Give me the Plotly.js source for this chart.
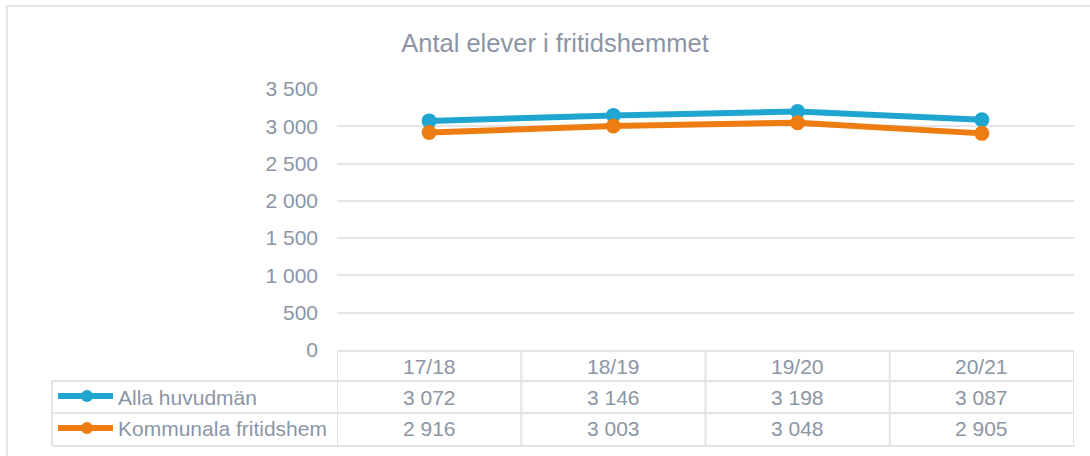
<!DOCTYPE html>
<html>
<head>
<meta charset="utf-8">
<script src="https://cdn.plot.ly/plotly-3.0.1.min.js"></script>
<style>html,body{margin:0;padding:0;background:#fff;}#chart{width:1090px;height:456px;}</style>
</head>
<body>
<div id="chart"></div>
<script>
// Data
const categories = ["17/18", "18/19", "19/20", "20/21"];
const seriesNames = ["Alla huvudmän", "Kommunala fritidshem"];
const allaHuvudman = [3072, 3146, 3198, 3087];
const kommunala = [2916, 3003, 3048, 2905];
const chartTitle = "Antal elever i fritidshemmet";

const colors = ["#1FA6D0", "#EE7D11"];
const textColor = "#8B95A5";
const gridColor = "#E2E5E9";
const FONT = "Liberation Sans, Arial, sans-serif";
const FS = 21;

// Plot area geometry (pixels)
const W = 1090, H = 456;
const L = 337, R = 1074, T = 89, B = 350;
const xp = px => (px - L) / (R - L);
const yp = py => (B - py) / (B - T);
const fmt = v => String(v).replace(/\B(?=(\d{3})+(?!\d))/g, " ");

const seriesValues = [allaHuvudman, kommunala];

const traces = seriesValues.map((vals, i) => ({
  type: "scatter",
  mode: "lines+markers",
  x: categories,
  y: vals,
  name: seriesNames[i],
  line: {color: colors[i], width: 6},
  marker: {color: colors[i], size: 15},
  cliponaxis: false,
  showlegend: false,
  hoverinfo: "x+y"
}));

const lineStyle = {color: "#E0E3E7", width: 2};
const shapes = [];
// outer chart border
shapes.push({type: "rect", xref: "paper", yref: "paper", x0: xp(7), x1: xp(1110), y0: yp(6), y1: yp(480),
  line: {color: "#E3E5E8", width: 2}, layer: "below"});
// table horizontal lines
shapes.push({type: "line", xref: "paper", yref: "paper", x0: 0, x1: 1, y0: yp(351), y1: yp(351), line: lineStyle});
[381, 413, 446].forEach(py => shapes.push({type: "line", xref: "paper", yref: "paper",
  x0: xp(52), x1: 1, y0: yp(py), y1: yp(py), line: lineStyle}));
// table vertical lines at category boundaries
for (let k = 0; k <= categories.length; k++) {
  shapes.push({type: "line", xref: "x", yref: "paper", x0: k - 0.5, x1: k - 0.5,
    y0: yp(351), y1: yp(446), line: lineStyle});
}
shapes.push({type: "line", xref: "paper", yref: "paper", x0: xp(52), x1: xp(52),
  y0: yp(381), y1: yp(446), line: lineStyle});

const annotations = [];
// header row
categories.forEach(c => annotations.push({xref: "x", yref: "paper", x: c, y: yp(366),
  text: c, showarrow: false, xanchor: "center", yanchor: "middle",
  font: {family: FONT, size: FS, color: textColor}}));
// value rows and legend keys
const rowY = [397, 429];
seriesValues.forEach((vals, i) => {
  vals.forEach((v, j) => annotations.push({xref: "x", yref: "paper", x: categories[j], y: yp(rowY[i]),
    text: fmt(v), showarrow: false, xanchor: "center", yanchor: "middle",
    font: {family: FONT, size: FS, color: textColor}}));
  annotations.push({xref: "paper", yref: "paper", x: xp(116), y: yp(rowY[i]),
    text: seriesNames[i], showarrow: false, xanchor: "left", yanchor: "middle",
    font: {family: FONT, size: FS, color: textColor}});
  shapes.push({type: "line", xref: "paper", yref: "paper", x0: xp(58), x1: xp(113),
    y0: yp(rowY[i] - 1), y1: yp(rowY[i] - 1), line: {color: colors[i], width: 6}});
  shapes.push({type: "circle", xref: "paper", yref: "paper", x0: xp(81), x1: xp(93),
    y0: yp(rowY[i] - 7), y1: yp(rowY[i] + 5), fillcolor: colors[i], line: {color: colors[i], width: 0}});
});

const layout = {
  width: W, height: H,
  margin: {l: L, r: W - R, t: T, b: H - B, pad: 0},
  paper_bgcolor: "#ffffff", plot_bgcolor: "#ffffff",
  separators: ", ",
  font: {family: FONT, color: textColor},
  title: {text: chartTitle, xref: "container", yref: "container", x: 555 / W, y: 1 - 43 / H,
    xanchor: "center", yanchor: "middle", font: {family: FONT, size: 25.5, color: textColor}},
  xaxis: {type: "category", range: [-0.5, categories.length - 0.5], showgrid: false, zeroline: false,
    showline: false, showticklabels: false, ticks: "", fixedrange: true},
  yaxis: {range: [0, 3500], dtick: 500, tick0: 0, tickformat: ",d", showgrid: true, gridcolor: gridColor,
    gridwidth: 2, zeroline: false, showline: false, ticks: "", ticklabelstandoff: 18,
    tickfont: {family: FONT, size: FS, color: textColor}, fixedrange: true},
  shapes: shapes,
  annotations: annotations,
  showlegend: false
};

Plotly.newPlot("chart", traces, layout, {displayModeBar: false, staticPlot: true});
</script>
</body>
</html>
